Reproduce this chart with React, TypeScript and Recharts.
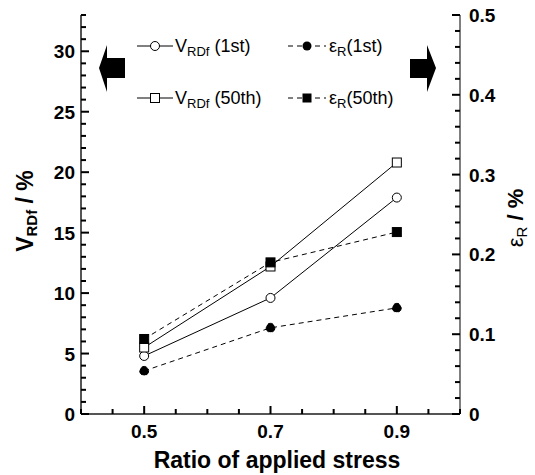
import React from 'react';
import { LineChart, Line, XAxis, YAxis, Customized } from 'recharts';

// ratio of applied stress
const stressRatio = [0.5, 0.7, 0.9];
// V_RDf / % (left axis)
const vrdf1st = [4.8, 9.6, 17.9];
const vrdf50th = [5.5, 12.2, 20.8];
// eps_R / % (right axis)
const epsR1st = [0.054, 0.108, 0.133];
const epsR50th = [0.094, 0.19, 0.228];

const xMajorLabels = [0.5, 0.7, 0.9];
const leftMajorLabels = [0, 5, 10, 15, 20, 25, 30];
const rightMajorLabels = [0, 0.1, 0.2, 0.3, 0.4, 0.5];

const xTicks = Array.from({ length: 13 }, (_, i) => Number((0.4 + i * 0.05).toFixed(2)));
const leftTicks = Array.from({ length: 34 }, (_, i) => i);
const rightTicks = Array.from({ length: 26 }, (_, i) => Number((i * 0.02).toFixed(2)));

const data = stressRatio.map((r, i) => ({
  ratio: r,
  v1: vrdf1st[i],
  v50: vrdf50th[i],
  e1: epsR1st[i],
  e50: epsR50th[i],
}));

const FONT = '"Liberation Sans", Arial, Helvetica, sans-serif';

const near = (a: number, list: number[]) => list.some(b => Math.abs(a - b) < 1e-6);

const BottomTick = (props: any) => {
  const { x, y, payload } = props;
  const major = near(payload.value, xMajorLabels);
  return (
    <g>
      <path d={`M${x},${y}V${y - (major ? 8 : 5)}`} stroke="black" strokeWidth={2} fill="none" />
      {major && (
        <text x={x} y={y + 24} textAnchor="middle" fontFamily={FONT} fontWeight="bold" fontSize={19} fill="#000">
          {payload.value.toFixed(1)}
        </text>
      )}
    </g>
  );
};

const TopTick = (props: any) => {
  const { x, y, payload } = props;
  const major = near(payload.value, xMajorLabels);
  return <path d={`M${x},${y}V${y + (major ? 8 : 5)}`} stroke="black" strokeWidth={2} fill="none" />;
};

const LeftTick = (props: any) => {
  const { x, y, payload } = props;
  const major = near(payload.value, leftMajorLabels);
  return (
    <g>
      <path d={`M${x},${y}H${x + (major ? 8 : 5)}`} stroke="black" strokeWidth={2} fill="none" />
      {major && (
        <text x={x - 6} y={y + 7} textAnchor="end" fontFamily={FONT} fontWeight="bold" fontSize={19} fill="#000">
          {payload.value}
        </text>
      )}
    </g>
  );
};

const RightTick = (props: any) => {
  const { x, y, payload } = props;
  const major = near(payload.value, rightMajorLabels);
  return (
    <g>
      <path d={`M${x},${y}H${x - (major ? 8 : 5)}`} stroke="black" strokeWidth={2} fill="none" />
      {major && (
        <text x={x + 9} y={y + 7} textAnchor="start" fontFamily={FONT} fontWeight="bold" fontSize={19} fill="#000">
          {payload.value === 0 ? '0' : payload.value.toFixed(1)}
        </text>
      )}
    </g>
  );
};

const SquareDot = (filled: boolean) => (props: any) => {
  const { cx, cy, index } = props;
  return (
    <rect key={index} x={cx - 4.5} y={cy - 4.5} width={9} height={9}
      fill={filled ? '#000' : '#fff'} stroke="#000" strokeWidth={1} />
  );
};

const Overlay = () => (
  <g fontFamily={FONT}>
    {/* arrows */}
    <polygon points="125,58 107,58 107,45 99,68 107,92 107,78 125,78" fill="#000" />
    <polygon points="410,59 427,59 427,45 436,68 427,92 427,78 410,78" fill="#000" />

    {/* legend */}
    <path d="M137,46H173" stroke="#000" />
    <circle cx={155} cy={46} r={4.5} fill="#fff" stroke="#000" />
    <text x={175} y={52} fontSize={18} fill="#000">
      V<tspan fontSize={13} dy={4}>RDf</tspan><tspan dy={-4}> (1st)</tspan>
    </text>
    <path d="M137,98H173" stroke="#000" />
    <rect x={150.5} y={93.5} width={9} height={9} fill="#fff" stroke="#000" />
    <text x={175} y={104} fontSize={18} fill="#000">
      V<tspan fontSize={13} dy={4}>RDf</tspan><tspan dy={-4}> (50th)</tspan>
    </text>

    <path d="M288,46H326" stroke="#000" strokeDasharray="5 4" />
    <circle cx={307} cy={46} r={4.5} fill="#000" />
    <text x={329} y={52} fontSize={18} fill="#000">
      ε<tspan fontSize={13} dy={4}>R</tspan><tspan dy={-4}>(1st)</tspan>
    </text>
    <path d="M288,98H326" stroke="#000" strokeDasharray="5 4" />
    <rect x={302.5} y={93.5} width={9} height={9} fill="#000" />
    <text x={329} y={104} fontSize={18} fill="#000">
      ε<tspan fontSize={13} dy={4}>R</tspan><tspan dy={-4}>(50th)</tspan>
    </text>

    {/* axis titles */}
    <text transform="translate(33,211) rotate(-90)" textAnchor="middle" fontSize={23} fontWeight="bold" fill="#000">
      V<tspan fontSize={15} dy={4}>RDf</tspan><tspan dy={-4}> / %</tspan>
    </text>
    <text transform="translate(523,218) rotate(-90)" textAnchor="middle" fontSize={22} fill="#000">
      ε<tspan fontSize={15} dy={4}>R</tspan><tspan dy={-4} fontWeight="bold"> / %</tspan>
    </text>
    <text x={277} y={468} textAnchor="middle" fontSize={23} fontWeight="bold" fill="#000">
      Ratio of applied stress
    </text>
  </g>
);

export default function App() {
  return (
    <div style={{ position: 'absolute', left: 0, top: 0, background: '#fff' }}>
      <LineChart width={535} height={475} data={data}
        margin={{ top: 15, right: 15, left: 21, bottom: 31 }}>
        <XAxis xAxisId="bottom" type="number" dataKey="ratio" domain={[0.4, 1.0]} ticks={xTicks}
          interval={0} tickSize={0} tickMargin={0} tickLine={false} height={30}
          axisLine={{ stroke: '#555', strokeWidth: 2 }} tick={<BottomTick />} allowDataOverflow />
        <XAxis xAxisId="top" orientation="top" type="number" dataKey="ratio" domain={[0.4, 1.0]} ticks={xTicks}
          interval={0} tickSize={0} tickMargin={0} tickLine={false} height={0}
          axisLine={{ stroke: '#000', strokeWidth: 1 }} tick={<TopTick />} allowDataOverflow />
        <YAxis yAxisId="left" type="number" domain={[0, 33]} ticks={leftTicks} interval={0}
          tickSize={0} tickMargin={0} tickLine={false} width={60}
          axisLine={{ stroke: '#555', strokeWidth: 2 }} tick={<LeftTick />} allowDataOverflow />
        <YAxis yAxisId="right" orientation="right" type="number" domain={[0, 0.5]} ticks={rightTicks} interval={0}
          tickSize={0} tickMargin={0} tickLine={false} width={60}
          axisLine={{ stroke: '#000', strokeWidth: 1 }} tick={<RightTick />} allowDataOverflow />

        <Line xAxisId="bottom" yAxisId="left" type="linear" dataKey="v1" stroke="#000" strokeWidth={1}
          dot={{ r: 4.5, fill: '#fff', stroke: '#000', strokeWidth: 1 }} isAnimationActive={false} />
        <Line xAxisId="bottom" yAxisId="left" type="linear" dataKey="v50" stroke="#000" strokeWidth={1}
          dot={SquareDot(false)} isAnimationActive={false} />
        <Line xAxisId="bottom" yAxisId="right" type="linear" dataKey="e1" stroke="#000" strokeWidth={1}
          strokeDasharray="5 4" dot={{ r: 4.5, fill: '#000', stroke: '#000', strokeWidth: 1 }} isAnimationActive={false} />
        <Line xAxisId="bottom" yAxisId="right" type="linear" dataKey="e50" stroke="#000" strokeWidth={1}
          strokeDasharray="5 4" dot={SquareDot(true)} isAnimationActive={false} />

        <Customized component={Overlay} />
      </LineChart>
    </div>
  );
}
